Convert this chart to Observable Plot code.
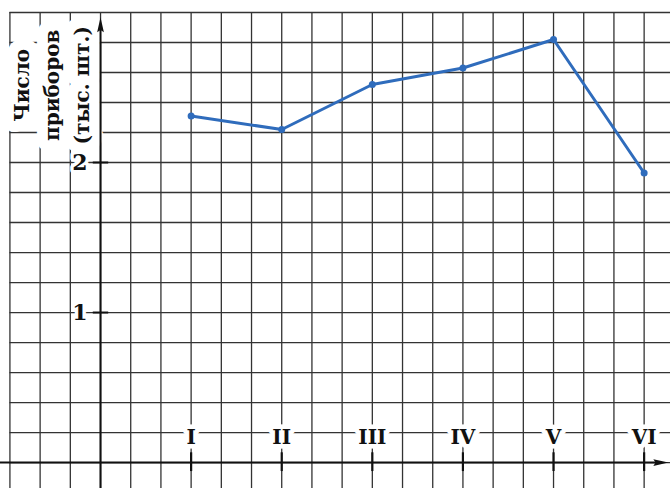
<!DOCTYPE html>
<html>
<head>
<meta charset="utf-8">
<script src="https://cdn.jsdelivr.net/npm/d3@7"></script>
<script src="https://cdn.jsdelivr.net/npm/@observablehq/plot@0.6"></script>
<style>
  html, body { margin: 0; padding: 0; background: #ffffff; }
  #chart svg { display: block; }
</style>
</head>
<body>
<div id="chart"></div>
<script>
// ---- data ----
const months = ["I", "II", "III", "IV", "V", "VI"];
const monthIndex = [1, 2, 3, 4, 5, 6];
const values = [2.31, 2.22, 2.52, 2.63, 2.82, 1.93];
const yTickValues = [1, 2];
const yTickLabels = ["1", "2"];
const yTitle = "Число\nприборов\n(тыс. шт.)";

const data = months.map((m, i) => ({label: m, x: monthIndex[i], y: values[i]}));

// grid paper: 3 cells per month, 5 cells per unit
const xGrid = d3.range(-3, 20).map(i => i / 3);
const yGrid = d3.range(-1, 16).map(i => i / 5);

const serif = "'DejaVu Serif', serif";
const blue = "#2f6cbc";

const arrowSymbol = {
  draw(ctx, size) {
    const s = Math.sqrt(size);
    ctx.moveTo(0, -s);
    ctx.lineTo(s * 0.38, s * 0.7);
    ctx.lineTo(0, s * 0.45);
    ctx.lineTo(-s * 0.38, s * 0.7);
    ctx.closePath();
  }
};

const chart = Plot.plot({
  width: 670,
  height: 488,
  margin: 0,
  x: {type: "linear", domain: [-1.104, 6.291], axis: null},
  y: {type: "linear", domain: [-0.173, 3.08], axis: null},
  style: {background: "#ffffff", fontFamily: serif},
  marks: [
    // grid paper
    Plot.ruleX(xGrid, {x: d => d, y1: -0.3, y2: 3.0, stroke: "#333", strokeWidth: 1.3}),
    Plot.ruleY(yGrid, {y: d => d, x1: -1, x2: 6.5, stroke: "#333", strokeWidth: 1.3}),
    // axis title (white patch hides the grid behind it)
    Plot.text([yTitle], {
      x: -0.56, y: 2.515, text: d => d, rotate: -90, lineHeight: 1.5,
      textAnchor: "middle", lineAnchor: "middle",
      fontSize: 20, fontWeight: "bold", fill: "#111",
      stroke: "white", strokeWidth: 22, strokeLinejoin: "round", paintOrder: "stroke"
    }),
    // tick labels with paper-white halo
    Plot.text(yTickValues, {
      x: 0, y: d => d, text: (d, i) => yTickLabels[i], dx: -13, textAnchor: "end",
      fontSize: 22, fontWeight: "bold", fill: "#111",
      stroke: "white", strokeWidth: 7, strokeLinejoin: "round", paintOrder: "stroke"
    }),
    Plot.text(data, {
      x: "x", y: 0, text: "label", dy: -25,
      fontSize: 20, fontWeight: "bold", fill: "#111",
      stroke: "white", strokeWidth: 9, strokeLinejoin: "round", paintOrder: "stroke"
    }),
    // axes
    Plot.ruleX([0], {y1: -0.3, y2: 2.9, stroke: "#111", strokeWidth: 2}),
    Plot.ruleY([0], {x1: -1.2, x2: 6.2, stroke: "#111", strokeWidth: 2}),
    Plot.dot([0], {x: 0, y: 2.91, r: 5, symbol: arrowSymbol, fill: "#111", stroke: null}),
    Plot.dot([0], {x: 6.17, y: 0, r: 5, symbol: arrowSymbol, fill: "#111", stroke: null, rotate: 90}),
    // ticks
    Plot.ruleY(yTickValues, {y: d => d, x1: -0.08, x2: 0.09, stroke: "#111", strokeWidth: 2}),
    Plot.ruleX(monthIndex, {x: d => d, y1: -0.06, y2: 0.065, stroke: "#111", strokeWidth: 2.2}),
    // data
    Plot.line(data, {x: "x", y: "y", stroke: blue, strokeWidth: 3, strokeLinejoin: "round"}),
    Plot.dot(data, {x: "x", y: "y", r: 3.5, fill: blue, stroke: null})
  ]
});

document.getElementById("chart").appendChild(chart);
</script>
</body>
</html>
